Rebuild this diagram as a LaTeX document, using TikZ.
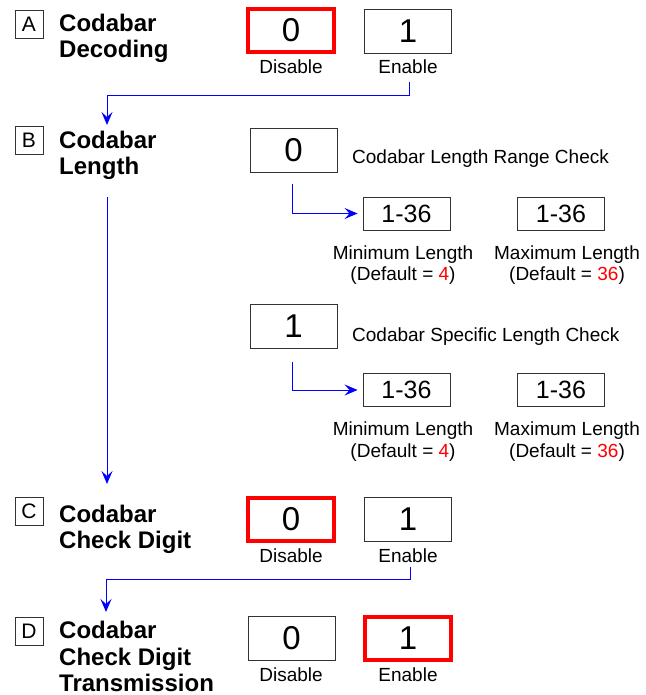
\documentclass[tikz,border=0pt]{standalone}
\usepackage{fontspec}
\setmainfont{Liberation Sans}
\usetikzlibrary{arrows.meta}
\begin{document}
\begin{tikzpicture}[x=1pt,y=-1pt,
  lbox/.style={draw=black!80,line width=0.9pt,minimum width=28pt,minimum height=28pt,inner sep=0pt,font=\fontsize{21}{21}\selectfont},
  head/.style={anchor=base west,inner sep=0pt,font=\fontsize{24}{26}\selectfont\bfseries},
  dbox/.style={draw=black!80,line width=0.9pt,minimum width=87pt,minimum height=44pt,inner sep=0pt,font=\fontsize{33}{33}\selectfont},
  sel/.style={draw=red,line width=3.5pt,minimum width=86pt,minimum height=43pt},
  nbox/.style={draw=black!80,line width=0.9pt,minimum width=87pt,minimum height=33pt,inner sep=0pt,font=\fontsize{25}{25}\selectfont},
  captxt/.style={anchor=base,inner sep=0pt,font=\fontsize{19}{19}\selectfont},
  side/.style={anchor=base west,inner sep=0pt,font=\fontsize{19}{19}\selectfont},
  conn/.style={draw={rgb,255:red,0;green,0;blue,255},line width=1pt,-{Stealth[length=13pt,width=11pt,inset=5pt]}}
]
\useasboundingbox (0,0) rectangle (645,695);
% ---- A
\node[lbox] (lA) at (29,24) {A};
\node[head] (hA1) at (59,32) {Codabar};
\node[head] (hA2) at (59,58) {Decoding};
\node[dbox,sel] (A0) at (291,30.5) {0};
\node[dbox] (A1) at (408,31) {1};
\node[captxt] (dA) at (291,74) {Disable};
\node[captxt] (eA) at (408,74) {Enable};
% ---- B
\node[lbox] (lB) at (29,140) {B};
\node[head] (hB1) at (59,149) {Codabar};
\node[head] (hB2) at (59,175) {Length};
\node[dbox] (B0) at (293.5,150) {0};
\node[side] (tB0) at (352,164) {Codabar Length Range Check};
\node[nbox] (mn1) at (406.5,213.5) {1-36};
\node[nbox] (mx1) at (561,213.5) {1-36};
\node[captxt] (cmn1a) at (403,259) {Minimum Length};
\node[captxt] (cmn1b) at (403,280) {(Default = \textcolor{red}{4})};
\node[captxt] (cmx1a) at (567,259) {Maximum Length};
\node[captxt] (cmx1b) at (567,280) {(Default = \textcolor{red}{36})};
\node[dbox] (B1) at (293.5,326.5) {1};
\node[side] (tB1) at (352,341) {Codabar Specific Length Check};
\node[nbox] (mn2) at (406.5,390) {1-36};
\node[nbox] (mx2) at (561,390) {1-36};
\node[captxt] (cmn2a) at (403,435) {Minimum Length};
\node[captxt] (cmn2b) at (403,457) {(Default = \textcolor{red}{4})};
\node[captxt] (cmx2a) at (567,435) {Maximum Length};
\node[captxt] (cmx2b) at (567,457) {(Default = \textcolor{red}{36})};
% ---- C
\node[lbox] (lC) at (29,511) {C};
\node[head] (hC1) at (59,522) {Codabar};
\node[head] (hC2) at (59,548) {Check Digit};
\node[dbox,sel] (C0) at (291,519.5) {0};
\node[dbox] (C1) at (408,519.5) {1};
\node[captxt] (dC) at (291,562) {Disable};
\node[captxt] (eC) at (408,562) {Enable};
% ---- D
\node[lbox] (lD) at (29,631) {D};
\node[head] (hD1) at (59,638) {Codabar};
\node[head] (hD2) at (59,665) {Check Digit};
\node[head] (hD3) at (59,691) {Transmission};
\node[dbox] (D0) at (291.5,638.5) {0};
\node[dbox,sel] (D1) at (408,638.5) {1};
\node[captxt] (dD) at (291,681) {Disable};
\node[captxt] (eD) at (408,681) {Enable};
% ---- connectors
\coordinate (sA) at (409,82);
\coordinate (tA) at (107,125);
\draw[conn] (sA) |- (tA |- 0,96) -- (tA);
\coordinate (sB) at (107,197);
\coordinate (tB) at (107,484);
\draw[conn] (sB) -- (tB);
\coordinate (sB0) at (292,184);
\draw[conn,shorten >=5pt] (sB0) |- (mn1.west);
\coordinate (sB1) at (292,362);
\draw[conn,shorten >=5pt] (sB1) |- (mn2.west);
\coordinate (sC) at (410,567);
\coordinate (tC) at (106,612);
\draw[conn] (sC) |- (tC |- 0,579) -- (tC);
\end{tikzpicture}
\end{document}
